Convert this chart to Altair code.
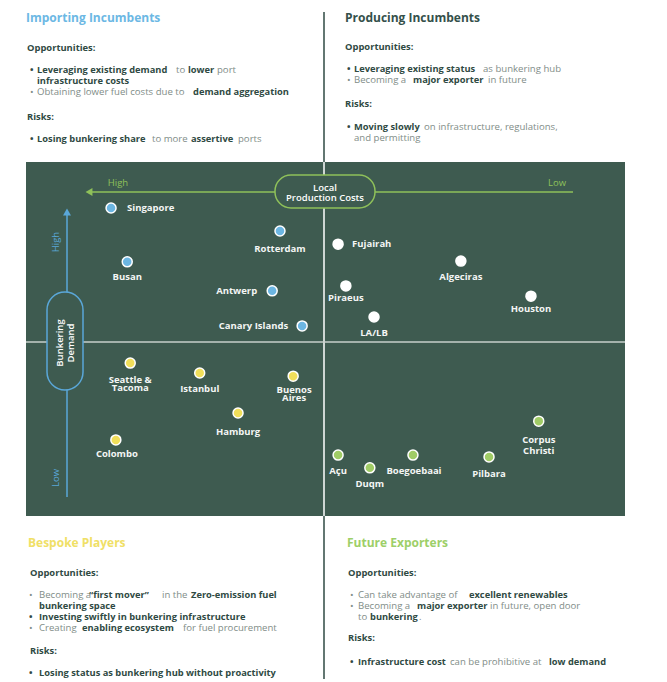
import altair as alt
import pandas as pd

# ---------------- data ----------------
cities = ["Singapore", "Rotterdam", "Busan", "Antwerp", "Canary Islands",
          "Fujairah", "Algeciras", "Piraeus", "Houston", "LA/LB",
          "Seattle & Tacoma", "Istanbul", "Buenos Aires", "Hamburg", "Colombo",
          "Açu", "Duqm", "Boegoebaai", "Pilbara", "Corpus Christi"]
segments = (["Importing Incumbents"] * 5 + ["Producing Incumbents"] * 5 +
            ["Bespoke Players"] * 5 + ["Future Exporters"] * 5)
# local production cost score (100 = high, left) and bunkering demand score (100 = high, top)
production_cost = [85.8, 57.6, 83.1, 58.9, 53.9,
                   47.9, 27.4, 46.6, 15.7, 41.9,
                   82.6, 71.0, 55.4, 64.6, 85.0,
                   47.9, 42.6, 35.4, 22.7, 14.4]
bunkering_demand = [87.0, 80.5, 71.8, 63.6, 53.7,
                    76.8, 72.0, 65.0, 62.1, 56.2,
                    43.2, 40.4, 39.5, 29.1, 21.5,
                    17.2, 13.6, 17.2, 16.7, 26.8]
label_lines = {"Seattle & Tacoma": ["Seattle &", "Tacoma"],
               "Buenos Aires": ["Buenos", "Aires"],
               "Corpus Christi": ["Corpus", "Christi"]}

segment_order = ["Importing Incumbents", "Producing Incumbents", "Bespoke Players", "Future Exporters"]
segment_colors = ["#6cb6e2", "#ffffff", "#f1df5a", "#a0cc66"]

quad_titles = ["Importing Incumbents", "Producing Incumbents", "Bespoke Players", "Future Exporters"]
title_colors = ["#6cb8e4", "#34504a", "#f0e066", "#9dcf68"]

# ---------------- layout (page pixels) ----------------
PAGE_X0, PAGE_Y0 = 26, 162        # top-left of the green plot area
PLOT_W, PLOT_H = 599, 354
BG = "#3e5b50"
DARK = "#2f4a43"
GREY = "#7f8d88"
GREEN = "#8fc15a"
BLUE = "#5aa7d8"
FONT = "Open Sans"

label_layout = {  # align, dx, dy, line gap (px)
    "Singapore": ("left", 16, 0, 0), "Rotterdam": ("center", 0, 18, 0),
    "Busan": ("center", 0, 15, 0), "Antwerp": ("right", -15, 0, 0),
    "Canary Islands": ("right", -14, 0, 0), "Fujairah": ("left", 14, 0, 0),
    "Algeciras": ("center", 0, 16, 0), "Piraeus": ("center", 0, 12, 0),
    "Houston": ("center", 0, 13, 0), "LA/LB": ("center", 0, 16, 0),
    "Seattle & Tacoma": ("center", 0, 16.5, 8), "Istanbul": ("center", 0, 16, 0),
    "Buenos Aires": ("center", 1, 13.5, 8), "Hamburg": ("center", 0, 19, 0),
    "Colombo": ("center", 1, 14, 0), "Açu": ("center", 0, 16, 0),
    "Duqm": ("center", 0, 16, 0), "Boegoebaai": ("center", 1, 16, 0),
    "Pilbara": ("center", 0, 17, 0), "Corpus Christi": ("center", 0, 19, 11),
}

titles_pos = [(26, 18), (345, 18), (28, 543), (347, 543)]
headers = [("Opportunities:", 27, 48), ("Risks:", 27, 117),
           ("Opportunities:", 345, 47), ("Risks:", 345, 104),
           ("Opportunities:", 30, 573), ("Risks:", 30, 651),
           ("Opportunities:", 348, 573), ("Risks:", 348, 638)]
body = [
    # top-left
    ("bd", "•", 30, 70), ("b", "Leveraging existing demand", 37, 70), ("r", "to", 176, 70),
    ("b", "lower", 188, 70), ("r", "port", 217, 70),
    ("b", "infrastructure costs", 37, 81),
    ("bg", "•", 30, 92), ("r", "Obtaining lower fuel costs due to", 37, 92),
    ("b", "demand aggregation", 193, 92),
    ("bd", "•", 30, 139), ("b", "Losing bunkering share", 37, 139), ("r", "to more", 152, 139),
    ("b", "assertive", 191, 139), ("r", "ports", 238, 139),
    # top-right
    ("bd", "•", 347, 69), ("b", "Leveraging existing status", 354, 69), ("r", "as bunkering hub", 483, 69),
    ("bg", "•", 347, 80), ("r", "Becoming a", 354, 80), ("b", "major exporter", 413, 80),
    ("r", "in future", 488, 80),
    ("bd", "•", 347, 127), ("b", "Moving slowly", 354, 127),
    ("r", "on infrastructure, regulations,", 424, 127),
    ("r", "and permitting", 354, 138),
    # bottom-left
    ("bg", "•", 29, 595), ("r", "Becoming a", 39, 595), ("b", "\u201cfirst mover\u201d", 89, 595),
    ("r", "in the", 162, 595), ("b", "Zero-emission fuel", 191, 595),
    ("b", "bunkering space", 39, 606),
    ("bd", "•", 29, 617), ("b", "Investing swiftly in bunkering infrastructure", 39, 617),
    ("bg", "•", 29, 628), ("r", "Creating", 39, 628), ("b", "enabling ecosystem", 82, 628),
    ("r", "for fuel procurement", 183, 628),
    ("bd", "•", 29, 673), ("b", "Losing status as bunkering hub without proactivity", 39, 673),
    # bottom-right
    ("bg", "•", 350, 595), ("r", "Can take advantage of", 358, 595), ("b", "excellent renewables", 469, 595),
    ("bg", "•", 350, 606), ("r", "Becoming a", 358, 606), ("b", "major exporter", 417, 606),
    ("r", "in future, open door", 490, 606),
    ("r", "to", 358, 617), ("b", "bunkering", 370, 617), ("r", ".", 419, 617),
    ("bd", "•", 350, 662), ("b", "Infrastructure cost", 358, 662), ("r", "can be prohibitive at", 450, 662),
    ("b", "low demand", 549, 662),
]

# ---------------- tables ----------------
pts = pd.DataFrame({"city": cities, "segment": segments,
                    "cost": production_cost, "demand": bunkering_demand})
ux, uy = PLOT_W / 100.0, PLOT_H / 100.0
lab_rows = []
for c, cost, dem in zip(cities, production_cost, bunkering_demand):
    align, dx, dy, gap = label_layout[c]
    for i, line in enumerate(label_lines.get(c, [c])):
        lab_rows.append({"text": line, "align": align,
                         "cost": cost - dx / ux,
                         "demand": dem - (dy + i * gap) / uy})
labs = pd.DataFrame(lab_rows)

xs = alt.Scale(domain=[100, 0], nice=False, zero=False)
ys = alt.Scale(domain=[0, 100], nice=False, zero=False)
px = alt.Scale(domain=[PAGE_X0, PAGE_X0 + PLOT_W], nice=False, zero=False)
py = alt.Scale(domain=[PAGE_Y0 + PLOT_H, PAGE_Y0], nice=False, zero=False)


def PX(f="x"):
    return alt.X(f"{f}:Q", scale=px, axis=None)


def PY(f="y"):
    return alt.Y(f"{f}:Q", scale=py, axis=None)


def text_layer(df, **kw):
    base = dict(font=FONT, baseline="middle")
    base.update(kw)
    return alt.Chart(df).mark_text(**base).encode(
        x=PX(), y=PY(), text="text:N", color=alt.Color("color:N", scale=None))


# ---------------- annotation layer (page-pixel scale) ----------------
rules = pd.DataFrame([
    {"x": 324, "x2": 324, "y": 12, "y2": 162, "color": DARK, "w": 1.5},
    {"x": 324, "x2": 324, "y": 162, "y2": 516, "color": "#ffffff", "w": 1.5},
    {"x": 324, "x2": 324, "y": 516, "y2": 679, "color": DARK, "w": 1.5},
    {"x": 26, "x2": 625, "y": 342, "y2": 342, "color": "#c7cfcb", "w": 1.5},
    {"x": 89, "x2": 276, "y": 192, "y2": 192, "color": GREEN, "w": 1.5},
    {"x": 374, "x2": 573, "y": 192, "y2": 192, "color": GREEN, "w": 1.5},
    {"x": 67, "x2": 67, "y": 212, "y2": 293, "color": BLUE, "w": 1.5},
    {"x": 67, "x2": 67, "y": 389, "y2": 497, "color": BLUE, "w": 1.5},
])
rule_layer = alt.Chart(rules).mark_rule().encode(
    x=PX(), x2="x2:Q", y=PY(), y2="y2:Q",
    color=alt.Color("color:N", scale=None),
    strokeWidth=alt.StrokeWidth("w:Q", scale=None))

cost_box = alt.Chart(pd.DataFrame([{"x": 275, "x2": 375, "y": 175, "y2": 208}])).mark_rect(
    cornerRadius=16, fill=BG, stroke=GREEN, strokeWidth=1.5).encode(
    x=PX(), x2="x2:Q", y=PY(), y2="y2:Q")
dem_box = alt.Chart(pd.DataFrame([{"x": 47, "x2": 83, "y": 292, "y2": 390}])).mark_rect(
    cornerRadius=18, fill=BG, stroke=BLUE, strokeWidth=1.5).encode(
    x=PX(), x2="x2:Q", y=PY(), y2="y2:Q")

heads = pd.DataFrame([
    {"x": 89, "y": 192, "shape": "triangle-left", "color": GREEN},
    {"x": 67, "y": 212, "shape": "triangle-up", "color": BLUE},
])
head_layer = alt.Chart(heads).mark_point(filled=True, size=64, opacity=1).encode(
    x=PX(), y=PY(), shape=alt.Shape("shape:N", scale=None),
    color=alt.Color("color:N", scale=None))

title_df = pd.DataFrame([{"text": t, "x": p[0], "y": p[1], "color": c}
                         for t, p, c in zip(quad_titles, titles_pos, title_colors)])
head_df = pd.DataFrame([{"text": t, "x": x, "y": y, "color": DARK} for t, x, y in headers])
bold_df = pd.DataFrame([{"text": t, "x": x, "y": y, "color": DARK}
                        for s, t, x, y in body if s in ("b", "bd")])
reg_df = pd.DataFrame([{"text": t, "x": x, "y": y, "color": GREY}
                       for s, t, x, y in body if s in ("r", "bg")])

axis_lbl = pd.DataFrame([
    {"text": "High", "x": 118, "y": 183, "color": GREEN},
    {"text": "Low", "x": 557, "y": 183, "color": GREEN},
])
axis_lbl_rot = pd.DataFrame([
    {"text": "High", "x": 56, "y": 242, "color": BLUE},
    {"text": "Low", "x": 56, "y": 478, "color": BLUE},
])
box_txt = pd.DataFrame([
    {"text": "Local", "x": 325, "y": 187.5, "color": "#ffffff"},
    {"text": "Production Costs", "x": 325, "y": 197.5, "color": "#ffffff"},
])
box_txt_rot = pd.DataFrame([
    {"text": "Bunkering", "x": 60, "y": 343, "color": "#ffffff"},
    {"text": "Demand", "x": 71, "y": 343, "color": "#ffffff"},
])

annot = alt.layer(
    rule_layer, cost_box, dem_box, head_layer,
    text_layer(title_df, fontSize=12, fontWeight="bold", align="left"),
    text_layer(head_df, fontSize=9.4, fontWeight="bold", align="left"),
    text_layer(bold_df, fontSize=9.3, fontWeight="bold", align="left"),
    text_layer(reg_df, fontSize=9.6, align="left"),
    text_layer(axis_lbl, fontSize=9.5, align="center"),
    text_layer(axis_lbl_rot, fontSize=9.5, align="center", angle=270),
    text_layer(box_txt, fontSize=9.5, fontWeight=600, align="center"),
    text_layer(box_txt_rot, fontSize=9.5, fontWeight=600, align="center", angle=270),
)

# ---------------- points layer (score scales) ----------------
dots = alt.Chart(pts).mark_circle(size=100, opacity=1, stroke="white", strokeWidth=1.5).encode(
    x=alt.X("cost:Q", scale=xs, axis=None),
    y=alt.Y("demand:Q", scale=ys, axis=None),
    color=alt.Color("segment:N", scale=alt.Scale(domain=segment_order, range=segment_colors), legend=None))


def label_layer(align):
    return alt.Chart(labs[labs["align"] == align]).mark_text(
        font=FONT, fontSize=9.5, fontWeight="bold", color="#f4f6f5", align=align, baseline="middle").encode(
        x=alt.X("cost:Q", scale=xs, axis=None),
        y=alt.Y("demand:Q", scale=ys, axis=None),
        text="text:N")


points = alt.layer(dots, label_layer("left"), label_layer("right"), label_layer("center"))

chart = alt.layer(annot, points).resolve_scale(x="independent", y="independent").properties(
    width=PLOT_W, height=PLOT_H, autosize="none", background="white",
    padding={"left": 18, "top": 154, "right": 34, "bottom": 166},
).configure_view(fill=BG, strokeWidth=0)

chart.save("out.html", embed_options={"renderer": "svg", "actions": False})
